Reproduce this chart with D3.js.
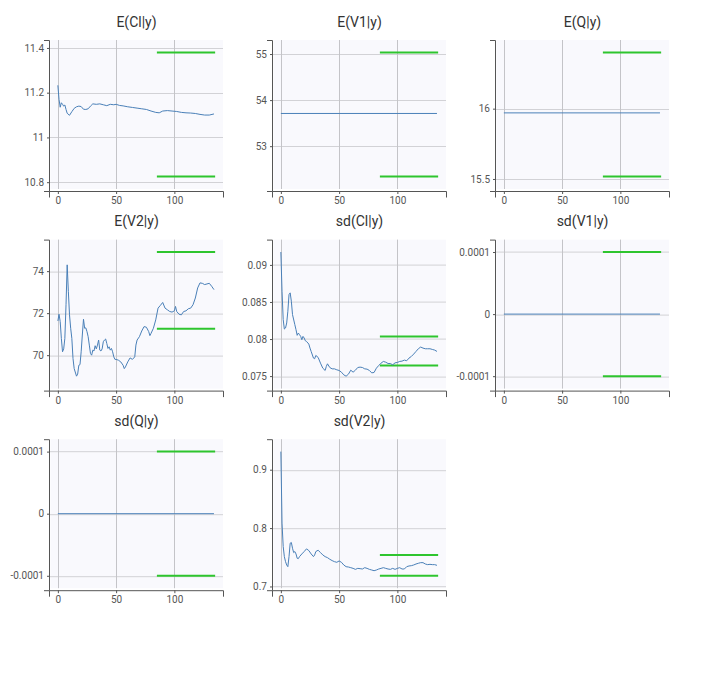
<!DOCTYPE html>
<html>
<head>
<meta charset="utf-8">
<script src="https://cdn.jsdelivr.net/npm/d3@7"></script>
<style>
  body { margin: 0; background: #fff; }
  text { font-family: Roboto, "Open Sans", sans-serif; }
</style>
</head>
<body>
<script>
"use strict";

// Panel titles, in reading order.
const titles = ["E(Cl|y)", "E(V1|y)", "E(Q|y)", "E(V2|y)", "sd(Cl|y)", "sd(V1|y)", "sd(Q|y)", "sd(V2|y)"];

// Running estimates.
const iterCl = [0, 1, 2, 3, 4, 5, 6, 7, 8, 10, 12, 14, 16, 18, 20, 22, 24, 26, 28, 30, 33, 36, 39, 42, 45, 48, 50, 53, 56, 60, 64, 68, 72, 76, 80, 84, 87, 90, 94, 98, 102, 106, 110, 114, 118, 122, 126, 130, 134];
const meanCl = [11.233, 11.17, 11.135, 11.155, 11.148, 11.14, 11.145, 11.125, 11.108, 11.099, 11.115, 11.13, 11.137, 11.14, 11.138, 11.126, 11.125, 11.128, 11.14, 11.15, 11.148, 11.15, 11.146, 11.142, 11.148, 11.146, 11.148, 11.143, 11.141, 11.137, 11.134, 11.131, 11.128, 11.125, 11.118, 11.112, 11.11, 11.118, 11.12, 11.118, 11.116, 11.112, 11.11, 11.109, 11.107, 11.103, 11.1, 11.1, 11.105];

const iterV2 = [0, 1, 2, 3, 4, 5, 6, 7, 8, 9, 10, 11, 12, 13, 14, 16, 17, 18, 19, 20, 21, 22, 23, 24, 25, 26, 27, 28, 29, 30, 31, 32, 33, 34, 35, 36, 37, 38, 39, 40, 41, 42, 43, 44, 45, 46, 47, 48, 49, 50, 52, 54, 56, 57, 58, 60, 62, 64, 66, 67, 68, 70, 72, 74, 76, 78, 79, 80, 82, 84, 86, 88, 90, 92, 94, 96, 98, 100, 101, 102, 104, 106, 108, 110, 112, 114, 116, 118, 120, 122, 124, 126, 128, 130, 132, 134];
const meanV2 = [71.63, 71.95, 71.6, 70.8, 70.16, 70.3, 70.8, 72.4, 74.3, 73.04, 71.92, 71.28, 70.8, 69.84, 69.36, 69.0, 69.1, 69.52, 69.55, 70.16, 70.96, 71.71, 71.28, 71.3, 71.12, 70.88, 70.48, 70.08, 70.0, 70.24, 70.2, 70.45, 70.3, 70.48, 70.72, 70.24, 70.2, 70.3, 70.64, 70.72, 70.77, 70.56, 70.32, 70.4, 70.24, 70.32, 70.16, 69.92, 69.8, 69.8, 69.76, 69.68, 69.52, 69.36, 69.44, 69.68, 69.87, 69.8, 69.92, 70.48, 70.72, 70.88, 71.15, 71.36, 71.33, 71.12, 70.93, 71.04, 71.28, 71.68, 72.24, 72.37, 72.51, 72.24, 72.16, 72.08, 72.05, 72.11, 72.32, 72.08, 71.95, 71.92, 72.08, 72.11, 72.21, 72.24, 72.4, 72.72, 73.2, 73.44, 73.42, 73.36, 73.39, 73.42, 73.28, 73.12];

const iterSdCl = [0, 1, 2, 3, 4, 5, 6, 7, 8, 9, 10, 12, 13, 14, 15, 16, 17, 18, 19, 20, 21, 22, 24, 25, 26, 28, 29, 30, 32, 34, 36, 38, 39, 40, 42, 44, 46, 48, 50, 52, 54, 56, 58, 60, 62, 64, 66, 68, 70, 72, 74, 76, 78, 80, 82, 84, 86, 88, 90, 92, 94, 96, 98, 100, 102, 104, 106, 108, 110, 112, 114, 116, 118, 120, 122, 124, 126, 128, 130, 132, 134];
const sdCl = [0.09174, 0.08646, 0.08262, 0.08135, 0.08149, 0.08217, 0.08375, 0.086, 0.08623, 0.0851, 0.0833, 0.08194, 0.08126, 0.0805, 0.08081, 0.08059, 0.08036, 0.07991, 0.08036, 0.08014, 0.07977, 0.07968, 0.07932, 0.07878, 0.07833, 0.07743, 0.07734, 0.07779, 0.07752, 0.07675, 0.07607, 0.07576, 0.0763, 0.07666, 0.07616, 0.07598, 0.07598, 0.07585, 0.07576, 0.07553, 0.07517, 0.07499, 0.07526, 0.0758, 0.07553, 0.0758, 0.07616, 0.07621, 0.07616, 0.07598, 0.07594, 0.07576, 0.07544, 0.07549, 0.07607, 0.07643, 0.07675, 0.07698, 0.07688, 0.0767, 0.0767, 0.07652, 0.07679, 0.07684, 0.07698, 0.07702, 0.07716, 0.07707, 0.07743, 0.07765, 0.07797, 0.07833, 0.07869, 0.07892, 0.07878, 0.07869, 0.07869, 0.07869, 0.0786, 0.07851, 0.07833];

const iterSdV2 = [0, 1, 2, 3, 4, 5, 6, 7, 8, 9, 10, 11, 12, 13, 14, 15, 16, 18, 20, 22, 24, 26, 28, 29, 30, 32, 34, 36, 38, 40, 42, 44, 46, 48, 50, 52, 54, 56, 58, 60, 62, 64, 66, 68, 70, 72, 74, 76, 78, 80, 82, 84, 86, 88, 90, 92, 94, 96, 98, 100, 102, 104, 106, 108, 110, 112, 114, 116, 118, 120, 122, 124, 126, 128, 130, 132, 134];
const sdV2 = [0.931, 0.8086, 0.7684, 0.7511, 0.7425, 0.7368, 0.7339, 0.7511, 0.7741, 0.7753, 0.7655, 0.758, 0.7598, 0.7557, 0.7483, 0.7477, 0.7511, 0.7557, 0.7598, 0.7644, 0.7615, 0.7557, 0.7511, 0.754, 0.7598, 0.7621, 0.758, 0.754, 0.7511, 0.7494, 0.7466, 0.7443, 0.7425, 0.7414, 0.7437, 0.7414, 0.7368, 0.7339, 0.7333, 0.7322, 0.731, 0.7293, 0.731, 0.7305, 0.7299, 0.7322, 0.731, 0.7293, 0.7282, 0.727, 0.7282, 0.7299, 0.731, 0.7322, 0.731, 0.7299, 0.7293, 0.731, 0.7293, 0.731, 0.7322, 0.7299, 0.7299, 0.7339, 0.7351, 0.7356, 0.7368, 0.7385, 0.7397, 0.7408, 0.7408, 0.7385, 0.7374, 0.7379, 0.7374, 0.7374, 0.7362];

// Flat traces only need their two ends.
const iterFlat = [0, 134];
const meanV1 = [53.71, 53.71];
const meanQ = [15.97, 15.97];
const sdV1 = [0, 0];
const sdQ = [0, 0];

// Green reference bars (upper, lower) per panel, drawn over iterations 85-135.
const refIters = [85, 135];
const refUpper = [11.38, 55.035, 16.4, 74.91, 0.08035, 0.0001, 0.0001, 0.754];
const refLower = [10.825, 52.34, 15.517, 71.26, 0.07644, -0.0001, -0.0001, 0.7183];

const panelIters = [iterCl, iterFlat, iterFlat, iterV2, iterSdCl, iterFlat, iterFlat, iterSdV2];
const panelValues = [meanCl, meanV1, meanQ, meanV2, sdCl, sdV1, sdQ, sdV2];

// Layout.
const width = 708, height = 679;
const w = 173, h = 149;
const marginLeft = 50, marginTop = 40;
const colStep = 223, rowStep = 199.6;

const svg = d3.select("body").append("svg")
  .attr("width", width)
  .attr("height", height);

const fmt = d => String(+(+d).toPrecision(8));

titles.forEach((title, i) => {
  const col = i % 3, row = Math.floor(i / 3);
  const g = svg.append("g")
    .attr("transform", `translate(${marginLeft + col * colStep},${marginTop + row * rowStep})`);

  const iters = panelIters[i];
  const vals = panelValues[i];

  // Domains: 5% padding on x, 10% on y.
  const xExt = d3.extent(iters.concat(refIters));
  const xPad = (xExt[1] - xExt[0]) * 0.05;
  const x = d3.scaleLinear().domain([xExt[0] - xPad, xExt[1] + xPad]).range([0, w]);

  const yExt = d3.extent(vals.concat([refUpper[i], refLower[i]]));
  const yPad = (yExt[1] - yExt[0]) * 0.1;
  const y = d3.scaleLinear().domain([yExt[0] - yPad, yExt[1] + yPad]).range([h, 0]);

  g.append("rect")
    .attr("x", 0.5).attr("y", 0)
    .attr("width", w - 0.5).attr("height", h)
    .attr("fill", "#f9f9fd");

  // Grid.
  g.append("g").selectAll("line")
    .data(y.ticks(3))
    .join("line")
    .attr("x1", 0).attr("x2", w)
    .attr("y1", d => Math.round(y(d)) + 0.5).attr("y2", d => Math.round(y(d)) + 0.5)
    .attr("stroke", "#d2d2d6");
  g.append("g").selectAll("line")
    .data(x.ticks(3))
    .join("line")
    .attr("y1", 0).attr("y2", h)
    .attr("x1", d => Math.round(x(d)) + 0.5).attr("x2", d => Math.round(x(d)) + 0.5)
    .attr("stroke", "#c4c4c8");

  // Axes, with a frame line that runs past the plot corner.
  const yAxis = g.append("g")
    .call(d3.axisLeft(y).ticks(3).tickSize(3).tickSizeOuter(0).tickFormat(fmt));
  const xAxis = g.append("g")
    .attr("transform", `translate(0,${h + 2})`)
    .call(d3.axisBottom(x).ticks(3).tickSize(3).tickSizeOuter(0).tickFormat(fmt));
  [yAxis, xAxis].forEach(a => {
    a.select(".domain").remove();
    a.selectAll("line").attr("stroke", "#555");
    a.selectAll("text").attr("fill", "#555").attr("font-size", 10)
      .attr("font-family", "Roboto, sans-serif");
  });
  g.append("path")
    .attr("d", `M-6,0.5H-0.5V${h + 2.5}H-6M-0.5,${h + 2.5}H${w + 0.5}V${h + 8.5}M-0.5,${h + 2.5}V${h + 8.5}`)
    .attr("fill", "none")
    .attr("stroke", "#555");

  // Reference bars.
  [refUpper[i], refLower[i]].forEach(v => {
    g.append("line")
      .attr("x1", x(refIters[0])).attr("x2", x(refIters[1]))
      .attr("y1", y(v)).attr("y2", y(v))
      .attr("stroke", "#2ec52e")
      .attr("stroke-width", 2);
  });

  // Trace.
  const line = d3.line()
    .x((d, k) => x(iters[k]))
    .y(d => y(d));
  g.append("path")
    .datum(vals)
    .attr("d", line)
    .attr("fill", "none")
    .attr("stroke", "#4a80b8")
    .attr("stroke-width", 1);

  g.append("text")
    .attr("x", w / 2)
    .attr("y", -13.5)
    .attr("text-anchor", "middle")
    .attr("font-size", 14)
    .attr("fill", "#333")
    .text(title);
});
</script>
</body>
</html>
